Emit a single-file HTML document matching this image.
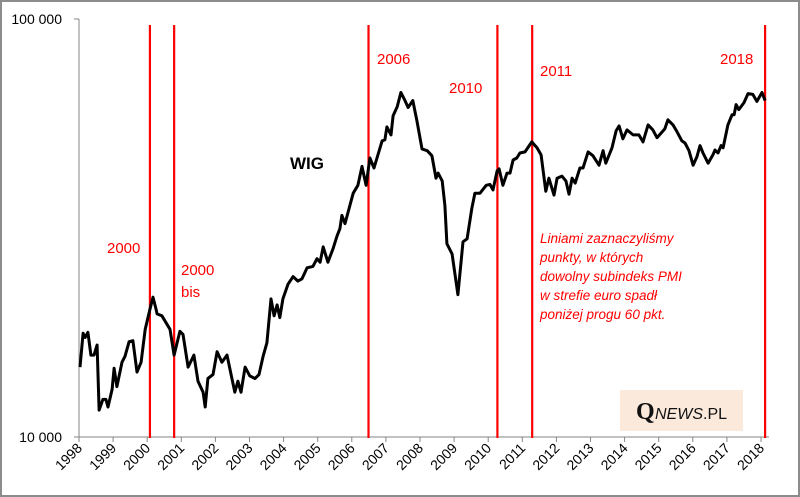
<!DOCTYPE html>
<html><head><meta charset="utf-8"><style>
html,body{margin:0;padding:0;background:#fff;}
svg{display:block;font-family:"Liberation Sans",sans-serif;}
</style></head><body>
<svg id="chart" width="800" height="497" viewBox="0 0 800 497" xmlns="http://www.w3.org/2000/svg">
<rect x="1" y="1" width="798" height="495" fill="#fff" stroke="#8c8c8c" stroke-width="2"/>
<g id="axes"></g>
<g id="markers"></g>
<g id="series"></g>
<text x="62" y="24" font-size="14" text-anchor="end" fill="#000">100 000</text>
<text x="62" y="442" font-size="14" text-anchor="end" fill="#000">10 000</text>
<text x="290" y="169" font-size="17" font-weight="bold" fill="#000">WIG</text>
<g fill="#ff0000" font-size="15">
<text x="107" y="253">2000</text>
<text x="181" y="275">2000</text>
<text x="181" y="297">bis</text>
<text x="377" y="64">2006</text>
<text x="449" y="93">2010</text>
<text x="540" y="76">2011</text>
<text x="720" y="64">2018</text>
</g>
<g fill="#ff0000" font-size="13.5" font-style="italic">
<text x="540" y="243">Liniami zaznaczyliśmy</text>
<text x="540" y="262">punkty, w których</text>
<text x="540" y="281">dowolny subindeks PMI</text>
<text x="540" y="300">w strefie euro spadł</text>
<text x="540" y="319">poniżej progu 60 pkt.</text>
</g>
<g>
<rect x="620" y="390" width="123" height="41" fill="#fbe9dc"/>
<text x="636" y="419" font-family="Liberation Serif,serif" font-size="24" font-weight="bold" fill="#111">Q</text>
<text x="655" y="419" font-size="16" font-style="italic" fill="#111">NEWS<tspan font-style="normal">.PL</tspan></text>
</g>
</svg>
<script>
const dates=[1998.03,1998.12,1998.18,1998.26,1998.35,1998.44,1998.53,1998.59,1998.70,1998.79,1998.85,1998.97,1999.03,1999.11,1999.26,1999.35,1999.47,1999.58,1999.70,1999.82,1999.94,2000.08,2000.17,2000.26,2000.29,2000.43,2000.58,2000.67,2000.79,2000.96,2001.05,2001.20,2001.37,2001.49,2001.64,2001.70,2001.78,2001.93,2002.05,2002.19,2002.34,2002.57,2002.66,2002.75,2002.87,2003.01,2003.16,2003.28,2003.40,2003.51,2003.63,2003.72,2003.81,2003.89,2003.98,2004.13,2004.28,2004.42,2004.54,2004.69,2004.86,2004.98,2005.07,2005.16,2005.30,2005.45,2005.57,2005.65,2005.71,2005.80,2006.04,2006.18,2006.30,2006.42,2006.53,2006.65,2006.89,2006.97,2007.03,2007.15,2007.21,2007.33,2007.44,2007.56,2007.65,2007.79,2007.91,2008.06,2008.21,2008.35,2008.47,2008.53,2008.65,2008.73,2008.79,2008.94,2009.11,2009.26,2009.38,2009.52,2009.61,2009.76,2009.94,2010.05,2010.14,2010.26,2010.32,2010.43,2010.55,2010.64,2010.73,2010.84,2010.93,2011.08,2011.28,2011.43,2011.55,2011.69,2011.78,2011.93,2012.02,2012.16,2012.28,2012.37,2012.46,2012.55,2012.69,2012.78,2012.93,2013.07,2013.25,2013.37,2013.45,2013.63,2013.75,2013.84,2013.95,2014.07,2014.25,2014.42,2014.54,2014.69,2014.83,2014.95,2015.18,2015.27,2015.42,2015.54,2015.68,2015.77,2015.89,2016.01,2016.12,2016.21,2016.30,2016.45,2016.59,2016.65,2016.74,2016.83,2016.89,2017.03,2017.15,2017.21,2017.27,2017.35,2017.50,2017.62,2017.76,2017.88,2018.03,2018.12];
const wigValues=[14700,17700,17300,17800,15700,15700,16600,11600,12300,12300,11800,13000,14600,13200,15100,15600,16900,17000,14300,15100,18100,20200,21600,20200,19700,19500,18600,18100,15700,17900,17600,14700,15700,13600,12800,11800,13800,14100,16000,15100,15700,12800,13600,12800,14700,14000,13800,14100,15600,16800,21400,19500,20700,19300,21400,23200,24200,23600,23900,25400,25600,26700,26200,28500,26200,28200,30300,31500,33900,32400,38300,40000,44400,40000,46500,44000,51100,51400,55200,52800,58700,61700,66700,63800,61400,63800,57100,48900,48400,47100,41600,42800,41000,35800,29000,27400,21900,29300,29800,35200,38300,38300,40000,40200,39000,43300,43800,40000,42800,42800,46000,46500,47800,48100,50800,49200,47300,38700,41600,37900,41600,42100,41000,38100,41600,40500,44000,44000,48100,47100,44700,48400,45200,49200,54000,55500,51700,54300,52800,52800,50800,55800,54300,52000,54600,57400,55800,53700,51100,50500,48400,44700,46800,49800,47800,45200,47300,48600,47800,49800,49200,55800,59000,59000,62400,60700,63100,66300,66000,63500,66700,63800];
const yearTicks=[1998,1999,2000,2001,2002,2003,2004,2005,2006,2007,2008,2009,2010,2011,2012,2013,2014,2015,2016,2017,2018];
const eventDates=[2000.08,2000.79,2006.49,2010.27,2011.29,2018.12];

const NS="http://www.w3.org/2000/svg";
const X0=79,PXY=34.1,YB=437,PXD=418;
function xs(t){return X0+(t-1998)*PXY;}
function ys(v){return YB-Math.log10(v/10000)*PXD;}
function mk(tag,attrs,parent){const e=document.createElementNS(NS,tag);for(const k in attrs)e.setAttribute(k,attrs[k]);parent.appendChild(e);return e;}

const axes=document.getElementById('axes');
const ya=mk('line',{x1:X0,y1:19,x2:X0,y2:YB,stroke:'#868686','stroke-width':1},axes);


[19,YB].forEach(y=>{const t=mk('line',{x1:X0-5,y1:y,x2:X0,y2:y,stroke:'#868686'},axes);

});
const xa=mk('line',{x1:X0,y1:YB,x2:769,y2:YB,stroke:'#868686','stroke-width':1},axes);


yearTicks.forEach(yr=>{
  const x=xs(yr);
  const t=mk('line',{x1:x,y1:YB,x2:x,y2:YB+5,stroke:'#868686'},axes);
  
  
  const lb=mk('text',{x:x+4,y:YB+12,'font-size':14,'text-anchor':'end',fill:'#000',transform:`rotate(-45 ${x+4} ${YB+12})`},axes);
  lb.textContent=yr;
  
  
});

const markers=document.getElementById('markers');
eventDates.forEach(d=>{
  const x=xs(d);
  const l=mk('line',{x1:x,y1:25,x2:x,y2:YB+1,stroke:'#ff0000','stroke-width':2.2},markers);
  
  
});

const series=document.getElementById('series');
let d='';
dates.forEach((t,i)=>{d+=(i?'L':'M')+xs(t).toFixed(1)+' '+ys(wigValues[i]).toFixed(1);});
const p=mk('path',{d:d,fill:'none',stroke:'#000','stroke-width':3,'stroke-linejoin':'round'},series);


</script>
</body></html>
